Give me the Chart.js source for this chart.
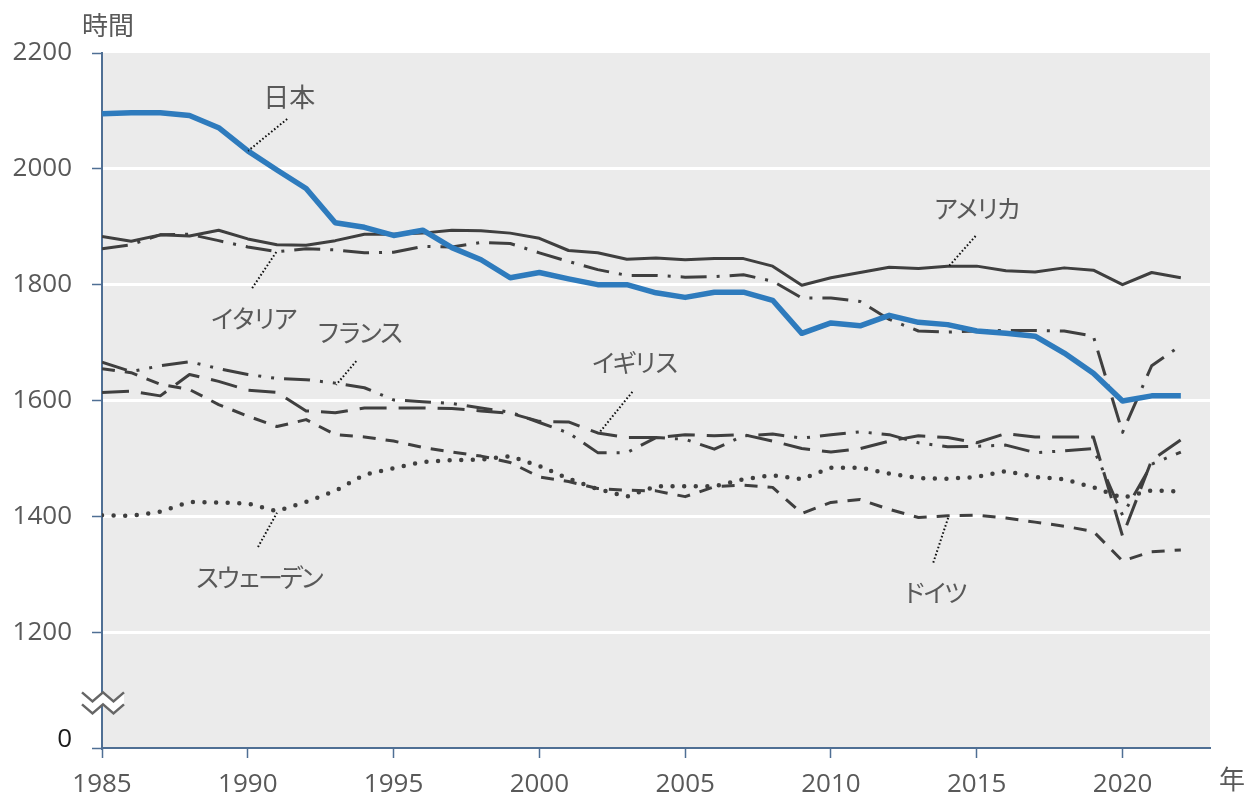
<!DOCTYPE html>
<html lang="ja">
<head>
<meta charset="utf-8">
<title>年間総実労働時間の推移</title>
<script src="https://cdn.jsdelivr.net/npm/chart.js@4.4.1/dist/chart.umd.min.js"></script>
<style>
  html, body { margin: 0; padding: 0; background: #fff; }
  #wrap { width: 1246px; height: 796px; position: relative; }
</style>
</head>
<body>
<div id="wrap"><canvas id="chart"></canvas></div>
<script>
// Years on the x axis
const years = [1985, 1986, 1987, 1988, 1989, 1990, 1991, 1992, 1993, 1994,
               1995, 1996, 1997, 1998, 1999, 2000, 2001, 2002, 2003, 2004,
               2005, 2006, 2007, 2008, 2009, 2010, 2011, 2012, 2013, 2014,
               2015, 2016, 2017, 2018, 2019, 2020, 2021, 2022];

// Annual hours worked
const japan  = [2095, 2097, 2097, 2092, 2071, 2031, 1998, 1966, 1907, 1899,
                1885, 1894, 1864, 1843, 1812, 1821, 1810, 1800, 1800, 1786,
                1778, 1787, 1787, 1773, 1716, 1734, 1729, 1747, 1735, 1731,
                1720, 1716, 1711, 1682, 1647, 1599, 1608, 1608];
const usa    = [1883, 1875, 1886, 1884, 1894, 1879, 1869, 1868, 1876, 1887,
                1887, 1889, 1894, 1893, 1889, 1880, 1859, 1855, 1844, 1846,
                1843, 1845, 1845, 1832, 1799, 1812, 1821, 1830, 1828, 1832,
                1832, 1824, 1822, 1829, 1825, 1800, 1821, 1812];
const italy  = [1862, 1869, 1886, 1887, 1876, 1865, 1857, 1862, 1860, 1855,
                1856, 1866, 1865, 1873, 1871, 1855, 1840, 1826, 1816, 1816,
                1813, 1814, 1817, 1806, 1777, 1777, 1771, 1740, 1720, 1718,
                1720, 1721, 1721, 1720, 1711, 1545, 1660, 1695];
const france = [1666, 1650, 1660, 1667, 1655, 1645, 1638, 1636, 1630, 1622,
                1601, 1598, 1595, 1587, 1580, 1562, 1544, 1510, 1510, 1536,
                1533, 1516, 1539, 1542, 1535, 1541, 1546, 1541, 1527, 1520,
                1521, 1523, 1510, 1513, 1517, 1402, 1490, 1511];
const uk     = [1614, 1616, 1608, 1645, 1633, 1618, 1614, 1582, 1579, 1587,
                1587, 1587, 1586, 1582, 1578, 1564, 1563, 1544, 1536, 1536,
                1541, 1539, 1541, 1530, 1517, 1511, 1517, 1530, 1539, 1536,
                1527, 1543, 1537, 1537, 1537, 1366, 1497, 1532];
const germany = [1655, 1648, 1628, 1619, 1593, 1573, 1555, 1567, 1541, 1537,
                 1530, 1519, 1511, 1504, 1493, 1468, 1460, 1448, 1445, 1444,
                 1434, 1451, 1454, 1450, 1405, 1424, 1429, 1412, 1398, 1401,
                 1402, 1397, 1390, 1383, 1374, 1323, 1339, 1342];
const sweden = [1402, 1401, 1408, 1425, 1424, 1422, 1409, 1425, 1444, 1472,
                1483, 1494, 1497, 1498, 1504, 1487, 1465, 1447, 1434, 1452,
                1452, 1452, 1464, 1471, 1464, 1484, 1484, 1474, 1466, 1465,
                1468, 1478, 1468, 1464, 1450, 1432, 1445, 1443];

// Tick values (1000 stands for the broken part of the axis, shown as 0)
const xTicks = [1985, 1990, 1995, 2000, 2005, 2010, 2015, 2020];
const yTicks = [1000, 1200, 1400, 1600, 1800, 2000, 2200];

const axisColor = '#4f6f94';
const textColor = '#595959';
const lineColor = '#3f3f3f';
const numFont = "'Open Sans', 'Noto Sans', sans-serif";
const jpFont = "'Noto Sans CJK JP', sans-serif";

// Series labels with their dotted leader lines (in data units)
const notes = [
  { text: '日本',       at: [1991.42, 2124], from: [1991.35, 2086], to: [1990.01, 2031] },
  { text: 'アメリカ',   at: [2014.96, 1931], from: [2014.96, 1884], to: [2014.03, 1831] },
  { text: 'イタリア',   at: [1990.15, 1741], from: [1990.15, 1794], to: [1991.00, 1858] },
  { text: 'フランス',   at: [1993.78, 1718], from: [1993.72, 1668], to: [1993.03, 1627] },
  { text: 'イギリス',   at: [2003.22, 1666], from: [2003.19, 1615], to: [2002.05, 1544] },
  { text: 'スウェーデン', at: [1990.35, 1294], from: [1990.35, 1347], to: [1991.00, 1406] },
  { text: 'ドイツ',     at: [2013.51, 1268], from: [2013.51, 1320], to: [2014.03, 1399] }
];

function toPoints(values) {
    return years.map((y, i) => ({ x: y, y: values[i] }));
}

function series(label, values, color, width, dash, cap) {
    return {
        label: label,
        data: toPoints(values),
        borderColor: color,
        borderWidth: width,
        borderDash: dash,
        borderCapStyle: cap || 'butt',
        borderJoinStyle: 'round',
        pointRadius: 0,
        tension: 0,
        fill: false
    };
}

// Gray plot background
const backdrop = {
    id: 'backdrop',
    beforeDraw(chart) {
        const { ctx, chartArea: a } = chart;
        ctx.save();
        ctx.fillStyle = '#ebebeb';
        ctx.fillRect(a.left, a.top, a.right - a.left, a.bottom - a.top);
        ctx.restore();
    }
};

// Labels, leaders, axis titles and the break mark
const extras = {
    id: 'extras',
    afterDraw(chart) {
        const { ctx, chartArea: a } = chart;
        const sx = chart.scales.x, sy = chart.scales.y;
        ctx.save();

        // dotted leaders
        ctx.strokeStyle = '#111';
        ctx.lineWidth = 2;
        ctx.setLineDash([1.6, 2.2]);
        notes.forEach(n => {
            ctx.beginPath();
            ctx.moveTo(sx.getPixelForValue(n.from[0]), sy.getPixelForValue(n.from[1]));
            ctx.lineTo(sx.getPixelForValue(n.to[0]), sy.getPixelForValue(n.to[1]));
            ctx.stroke();
        });
        ctx.setLineDash([]);

        // series names
        ctx.fillStyle = textColor;
        ctx.textAlign = 'center';
        ctx.textBaseline = 'middle';
        notes.forEach(n => {
            const kana = n.text !== '日本';
            ctx.font = (kana ? '25px ' : '26px ') + jpFont;
            ctx.letterSpacing = kana ? '-4px' : '0px';
            ctx.fillText(n.text, sx.getPixelForValue(n.at[0]), sy.getPixelForValue(n.at[1]));
        });
        ctx.letterSpacing = '0px';

        // axis titles
        ctx.font = '26px ' + jpFont;
        ctx.fillText('時間', a.left + 6, a.top - 28);
        ctx.fillText('年', a.right + 22, a.bottom + 31);

        // break mark on the y axis
        const yc = sy.getPixelForValue(1078);
        const x0 = a.left - 20, step = 10.5, h = 9, gap = 12;
        const zig = (off) => {
            const pts = [];
            for (let i = 0; i <= 4; i++) {
                pts.push([x0 + i * step, yc - gap / 2 + off + (i % 2 ? h / 2 : -h / 2)]);
            }
            return pts;
        };
        const top = zig(0), bot = zig(gap);
        ctx.fillStyle = '#ffffff';
        ctx.beginPath();
        top.forEach((p, i) => i ? ctx.lineTo(p[0], p[1]) : ctx.moveTo(p[0], p[1]));
        bot.slice().reverse().forEach(p => ctx.lineTo(p[0], p[1]));
        ctx.closePath();
        ctx.fill();
        ctx.strokeStyle = '#666';
        ctx.lineWidth = 2.5;
        [top, bot].forEach(pts => {
            ctx.beginPath();
            pts.forEach((p, i) => i ? ctx.lineTo(p[0], p[1]) : ctx.moveTo(p[0], p[1]));
            ctx.stroke();
        });
        ctx.restore();
    }
};

const chart = new Chart(document.getElementById('chart'), {
    type: 'line',
    data: {
        datasets: [
            series('日本', japan, '#2e7bbd', 5.5, []),
            series('アメリカ', usa, lineColor, 3, []),
            series('イタリア', italy, lineColor, 3, [26, 10, 3, 10]),
            series('フランス', france, lineColor, 3, [26, 10, 3, 10, 3, 10]),
            series('イギリス', uk, lineColor, 3, [27, 12]),
            series('ドイツ', germany, lineColor, 3, [13, 10]),
            series('スウェーデン', sweden, lineColor, 4.5, [0, 11.6], 'round')
        ]
    },
    options: {
        responsive: true,
        maintainAspectRatio: false,
        animation: false,
        events: [],
        layout: { padding: { left: 0, right: 36, top: 53, bottom: 0 } },
        plugins: { legend: { display: false }, tooltip: { enabled: false } },
        scales: {
            x: {
                type: 'linear',
                min: 1985,
                max: 2023,
                afterBuildTicks: s => { s.ticks = xTicks.map(v => ({ value: v })); },
                afterFit: s => { s.height = 48; },
                grid: { drawOnChartArea: false, tickLength: 10, tickColor: axisColor, tickWidth: 1.5 },
                border: { color: axisColor, width: 2 },
                ticks: {
                    color: textColor,
                    font: { family: numFont, size: 26 },
                    padding: 11,
                    maxRotation: 0,
                    autoSkip: false,
                    callback: v => String(v)
                }
            },
            y: {
                min: 1000,
                max: 2200,
                afterBuildTicks: s => { s.ticks = yTicks.map(v => ({ value: v })); },
                afterFit: s => { s.width = 102; },
                grid: {
                    color: c => (c.tick && c.tick.value > 1000 && c.tick.value < 2200) ? '#ffffff' : 'rgba(0,0,0,0)',
                    lineWidth: 3,
                    tickLength: 10,
                    tickColor: axisColor,
                    tickWidth: 1.5
                },
                border: { color: axisColor, width: 2 },
                ticks: {
                    color: c => c.tick.value === 1000 ? '#1a1a1a' : textColor,
                    font: c => (c.tick && c.tick.value === 1000)
                        ? { family: numFont, size: 26, lineHeight: 0.62 }
                        : { family: numFont, size: 26 },
                    padding: 20,
                    autoSkip: false,
                    // the "0" gets an empty second line so it sits a little above its tick
                    callback: v => v === 1000 ? ['0', ''] : String(v)
                }
            }
        }
    },
    plugins: [backdrop, extras]
});
</script>
</body>
</html>
